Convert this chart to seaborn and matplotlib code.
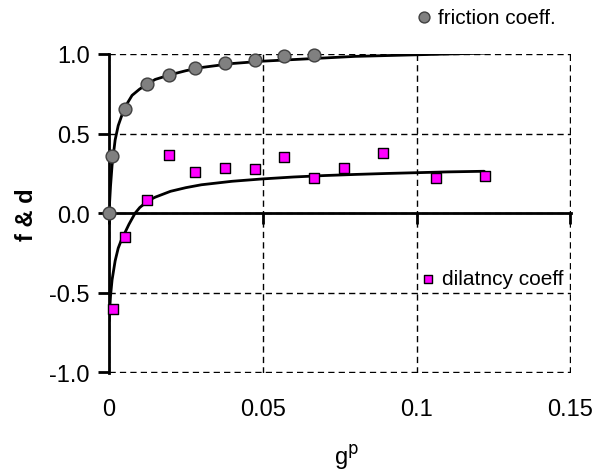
import matplotlib
matplotlib.use("Agg")
import matplotlib.pyplot as plt
import numpy as np
import pandas as pd
import seaborn as sns

TICK_SIZE = 17
LABEL_SIZE = 17
LEGEND_SIZE = 15

# measured points
fric_x = [0.0, 0.001, 0.0053, 0.0125, 0.0195, 0.028, 0.0377, 0.0474, 0.057, 0.0666]
fric_y = [0.0, 0.36, 0.655, 0.81, 0.865, 0.91, 0.945, 0.965, 0.985, 0.995]

dil_x = [0.0012, 0.0052, 0.0124, 0.0196, 0.028, 0.0378, 0.0474, 0.057, 0.0666,
         0.0763, 0.0892, 0.1064, 0.1222]
dil_y = [-0.60, -0.15, 0.08, 0.365, 0.26, 0.285, 0.275, 0.355, 0.22,
         0.285, 0.38, 0.22, 0.235]

# fitted curves
fric_fit_x = [0.0, 0.0005, 0.001, 0.002, 0.003, 0.005, 0.0075, 0.01, 0.0125, 0.015,
              0.02, 0.025, 0.03, 0.04, 0.05, 0.06, 0.07, 0.08, 0.09, 0.1, 0.11, 0.122]
fric_fit_y = [0.0, 0.17, 0.30, 0.46, 0.55, 0.66, 0.74, 0.78, 0.81, 0.84,
              0.87, 0.895, 0.915, 0.94, 0.955, 0.965, 0.975, 0.985, 0.99, 0.995, 1.0, 1.005]

dil_fit_x = [0.0, 0.0005, 0.001, 0.002, 0.003, 0.004, 0.005, 0.0065, 0.0085, 0.01,
             0.0125, 0.015, 0.02, 0.025, 0.03, 0.04, 0.05, 0.06, 0.07, 0.08,
             0.09, 0.1, 0.11, 0.122]
dil_fit_y = [-0.68, -0.52, -0.42, -0.30, -0.22, -0.17, -0.13, -0.07, 0.0, 0.035,
             0.075, 0.10, 0.137, 0.16, 0.178, 0.2, 0.215, 0.227, 0.236, 0.243,
             0.249, 0.254, 0.259, 0.263]

x_ticks = [0, 0.05, 0.1, 0.15]
x_tick_labels = ["0", "0.05", "0.1", "0.15"]
y_ticks = [-1.0, -0.5, 0.0, 0.5, 1.0]

sns.set_style("white")
plt.rcParams["font.family"] = ["Liberation Sans", "DejaVu Sans"]
plt.rcParams["axes.unicode_minus"] = False
plt.rcParams["text.color"] = "black"
plt.rcParams["xtick.color"] = "black"
plt.rcParams["ytick.color"] = "black"
plt.rcParams["axes.labelcolor"] = "black"

fig = plt.figure(figsize=(5.93, 4.77), dpi=100)
ax = fig.add_axes([0.1838, 0.2159, 0.779, 0.6688])

fric_fit = pd.DataFrame({"x": fric_fit_x, "y": fric_fit_y})
dil_fit = pd.DataFrame({"x": dil_fit_x, "y": dil_fit_y})
sns.lineplot(data=fric_fit, x="x", y="y", sort=False, estimator=None,
             color="black", lw=2, ax=ax, zorder=3)
sns.lineplot(data=dil_fit, x="x", y="y", sort=False, estimator=None,
             color="black", lw=2, ax=ax, zorder=3)

fric = pd.DataFrame({"x": fric_x, "y": fric_y})
dil = pd.DataFrame({"x": dil_x, "y": dil_y})
sns.scatterplot(data=fric, x="x", y="y", marker="o", s=85, color="#808080",
                edgecolor="#404040", linewidth=1, ax=ax, zorder=5, clip_on=False,
                label="friction coeff.")
sns.scatterplot(data=dil, x="x", y="y", marker="s", s=42, color="#ff00ff",
                edgecolor="black", linewidth=1, ax=ax, zorder=5, clip_on=False,
                label="dilatncy coeff")

ax.set_xlim(0, 0.1502)
ax.set_ylim(-1.005, 1.0)
ax.grid(True, color="black", lw=1, ls=(0, (4.5, 3)))
ax.set_axisbelow(True)

for side in ["top", "right"]:
    ax.spines[side].set_visible(False)
ax.spines["left"].set_linewidth(2)
ax.spines["left"].set_color("black")
ax.spines["bottom"].set_position(("data", 0))
ax.spines["bottom"].set_linewidth(2)
ax.spines["bottom"].set_color("black")

ax.set_xticks(x_ticks)
ax.set_yticks(y_ticks)
ax.set_yticklabels([f"{v:.1f}" for v in y_ticks])
ax.tick_params(axis="x", direction="out", length=8, width=2, color="black",
               labelbottom=False, bottom=True)
ax.tick_params(axis="y", direction="out", length=8, width=2, pad=6, color="black",
               labelsize=TICK_SIZE, left=True)

sec = ax.secondary_xaxis("bottom")
sec.set_xticks(x_ticks)
sec.set_xticklabels(x_tick_labels)
sec.tick_params(length=0, pad=18, labelsize=TICK_SIZE)
sec.spines["bottom"].set_visible(False)

ax.set_xlabel("")
ax.set_ylabel("f & d", fontsize=LABEL_SIZE, fontweight="bold", labelpad=8)
fig.text(0.585, 0.04, r"g$^{\mathrm{p}}$", fontsize=LABEL_SIZE, ha="center", va="center")

handles, labels = ax.get_legend_handles_labels()
leg1 = ax.legend([handles[0]], [labels[0]], loc="center left",
                 bbox_to_anchor=(0.7015, 0.962), bbox_transform=fig.transFigure,
                 frameon=False, fontsize=LEGEND_SIZE, handlelength=0.8,
                 handletextpad=0.25, borderpad=0, borderaxespad=0, markerscale=0.85)
ax.add_artist(leg1)
ax.legend([handles[1]], [labels[1]], loc="center left",
          bbox_to_anchor=(0.708, 0.413), bbox_transform=fig.transFigure,
          frameon=False, fontsize=LEGEND_SIZE, handlelength=0.8,
          handletextpad=0.25, borderpad=0, borderaxespad=0, markerscale=0.9)

fig.savefig("out.png", dpi=100)
